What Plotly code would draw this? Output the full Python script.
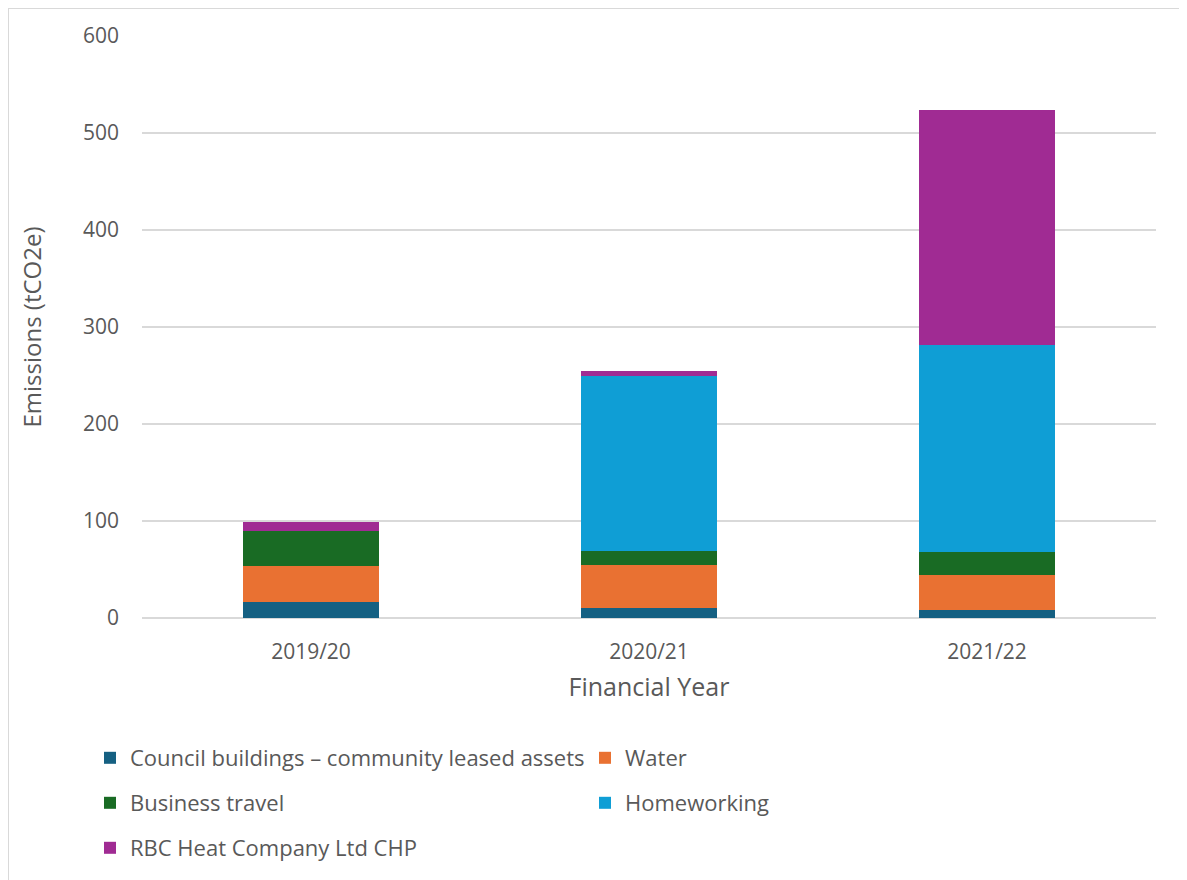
import plotly.graph_objects as go

years = ["2019/20", "2020/21", "2021/22"]
series_names = [
    "Council buildings – community leased assets",
    "Water",
    "Business travel",
    "Homeworking",
    "RBC Heat Company Ltd CHP",
]
council = [16, 10, 8]
water = [38, 45, 36]
business_travel = [36, 14, 24]
homeworking = [0, 181, 213]
rbc_heat = [9, 5, 243]
y_ticks = [0, 100, 200, 300, 400, 500, 600]

values = [council, water, business_travel, homeworking, rbc_heat]
colors = ["#156082", "#E97132", "#196B24", "#0F9ED5", "#A02B93"]
legend_ids = ["legend", "legend", "legend2", "legend2", "legend3"]

FONT = "Open Sans"
TXT = "#595959"

fig = go.Figure()
for name, vals, col, lg in zip(series_names, values, colors, legend_ids):
    fig.add_trace(go.Bar(
        x=years, y=vals, name=name, marker=dict(color=col, line=dict(width=0)),
        legend=lg,
    ))

# page has an 8px body margin; figure coordinates = page - 8
W, H = 1179, 872
L, R, T, B = 134, 31, 28, 262

def leg(ypix):
    return dict(
        orientation="h", xref="container", yref="container",
        x=82 / W, y=1 - ypix / H, xanchor="left", yanchor="middle",
        entrywidth=450, entrywidthmode="pixels",
        font=dict(family=FONT, size=22, color=TXT),
        bgcolor="rgba(0,0,0,0)", itemwidth=30, traceorder="normal",
    )

fig.update_layout(
    width=W, height=H,
    margin=dict(l=L, r=R, t=T, b=B, pad=0),
    barmode="stack", bargap=0.6,
    plot_bgcolor="white", paper_bgcolor="white",
    font=dict(family=FONT, color=TXT),
    showlegend=True,
    legend=leg(750), legend2=leg(795), legend3=leg(840),
    xaxis=dict(
        tickfont=dict(size=21, color=TXT, family=FONT),
        title=dict(text="Financial Year", font=dict(size=25, color=TXT, family=FONT), standoff=14),
        showgrid=False, ticks="", showline=False, ticklabelstandoff=19,
    ),
    yaxis=dict(
        range=[0, 600], tickvals=y_ticks,
        tickfont=dict(size=21, color=TXT, family=FONT),
        title=dict(text="Emissions (tCO2e)", font=dict(size=24, color=TXT, family=FONT), standoff=34),
        showgrid=True, gridcolor="#D9D9D9", gridwidth=1.5,
        zeroline=True, zerolinecolor="#D9D9D9", zerolinewidth=1.5,
        ticklabelstandoff=22, ticks="",
    ),
    shapes=[dict(
        type="rect", xref="paper", yref="paper",
        x0=(0 - L) / (W - L - R), x1=(1300 - L) / (W - L - R),
        y0=(H - B - 1000) / (H - T - B), y1=(H - B - 0) / (H - T - B),
        line=dict(color="#D9D9D9", width=2), fillcolor="rgba(0,0,0,0)", layer="below",
    )],
)

fig.write_html("out.html")
